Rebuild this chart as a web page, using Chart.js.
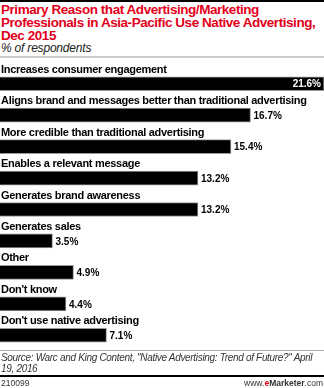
<!DOCTYPE html>
<html>
<head>
<meta charset="utf-8">
<script src="https://cdn.jsdelivr.net/npm/chart.js@4.4.1/dist/chart.umd.min.js"></script>
<style>
  html, body { margin: 0; padding: 0; background: #fff; }
  body { width: 324px; height: 388px; position: relative; overflow: hidden; font-family: "Liberation Sans", Arial, sans-serif; }
  .topline { position: absolute; left: 0; top: 0; width: 324px; height: 2px; background: #000; }
  .title { position: absolute; left: 1px; top: 3px; width: 323px; color: #e3001b; font-weight: bold; font-size: 13.5px; line-height: 13px; letter-spacing: -0.45px; white-space: nowrap; }
  .subtitle { position: absolute; left: 1px; top: 41px; font-style: italic; font-size: 12px; color: #222; letter-spacing: -0.2px; }
  .rule { position: absolute; left: 0; width: 324px; }
  .source { position: absolute; left: 1px; top: 352px; width: 323px; font-style: italic; font-size: 10px; line-height: 11px; color: #333; letter-spacing: -0.32px; white-space: nowrap; }
  .foot { position: absolute; top: 378px; font-size: 8.5px; color: #333; }
  #wrap { position: absolute; left: 0; top: 50px; width: 324px; height: 301px; }
</style>
</head>
<body>
<div class="topline"></div>
<div class="title">Primary Reason that Advertising/Marketing<br>Professionals in Asia-Pacific Use Native Advertising,<br>Dec 2015</div>
<div class="subtitle">% of respondents</div>
<div class="rule" style="top:56px;height:2px;background:#ccc"></div>

<div id="wrap"><canvas id="reasonChart"></canvas></div>

<div class="rule" style="top:350px;height:1px;background:#aaa"></div>
<div class="source">Source: Warc and King Content, "Native Advertising: Trend of Future?" April<br>19, 2016</div>
<div class="rule" style="top:375px;height:2px;background:#000"></div>
<div class="foot" style="left:1px">210099</div>
<div class="foot" style="right:1px">www.<span style="color:#e3001b;font-weight:bold">e</span><b>Marketer</b>.com</div>

<script>
// survey answers, top to bottom
const reasons = [
  "Increases consumer engagement",
  "Aligns brand and messages better than traditional advertising",
  "More credible than traditional advertising",
  "Enables a relevant message",
  "Generates brand awareness",
  "Generates sales",
  "Other",
  "Don't know",
  "Don't use native advertising"
];
const shares = [21.6, 16.7, 15.4, 13.2, 13.2, 3.5, 4.9, 4.4, 7.1];

// category text above each bar + value at the bar end
const barLabels = {
  id: "barLabels",
  afterDatasetsDraw(chart) {
    const ctx = chart.ctx;
    const meta = chart.getDatasetMeta(0);
    const right = chart.chartArea.right;
    ctx.save();
    ctx.textBaseline = "middle";
    meta.data.forEach((bar, i) => {
      ctx.font = "bold 11px 'Liberation Sans', Arial, sans-serif";
      ctx.letterSpacing = "-0.3px";
      ctx.fillStyle = "#000";
      ctx.textAlign = "left";
      ctx.fillText(reasons[i], 1, bar.y - 14);

      const txt = shares[i].toFixed(1) + "%";
      ctx.font = "bold 10px 'Liberation Sans', Arial, sans-serif";
      ctx.letterSpacing = "0px";
      const w = ctx.measureText(txt).width;
      if (bar.x + w + 4 > right) {
        // no room past the bar, put it inside
        ctx.fillStyle = "#fff";
        ctx.textAlign = "right";
        ctx.fillText(txt, bar.x - 3, bar.y + 1);
      } else {
        ctx.fillStyle = "#000";
        ctx.textAlign = "left";
        ctx.fillText(txt, bar.x + 3, bar.y + 1);
      }
    });
    ctx.restore();
  }
};

new Chart(document.getElementById("reasonChart"), {
  type: "bar",
  data: {
    labels: reasons,
    datasets: [{
      data: shares,
      backgroundColor: "#000",
      borderColor: "#999",
      borderWidth: 1,
      borderSkipped: "start",
      barThickness: 14
    }]
  },
  options: {
    indexAxis: "y",
    responsive: true,
    maintainAspectRatio: false,
    animation: false,
    layout: { padding: { top: 18, left: 0, right: 0, bottom: 0 } },
    scales: {
      x: { display: false, min: 0, max: 21.6 },
      y: { display: false }
    },
    plugins: {
      legend: { display: false },
      tooltip: { enabled: false }
    }
  },
  plugins: [barLabels]
});
</script>
</body>
</html>
